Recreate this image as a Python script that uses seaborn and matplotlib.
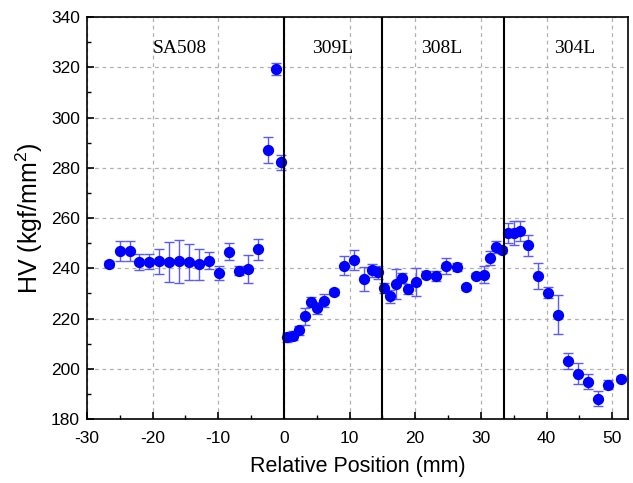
import matplotlib
matplotlib.use("Agg")
import matplotlib.pyplot as plt
import numpy as np
import pandas as pd
import seaborn as sns
from matplotlib.ticker import MultipleLocator

# values
pos_mm = [-26.6, -25.0, -23.5, -22.0, -20.5, -19.05, -17.5, -16.0, -14.5, -13.0,
          -11.4, -9.95, -8.4, -6.9, -5.4, -3.9, -2.4, -1.27, -0.46,
          0.5, 1.37, 2.29, 3.2, 4.07, 5.08, 6.1, 7.6, 9.2, 10.67, 12.2, 13.46, 14.33,
          15.24, 16.16, 17.03, 17.94, 18.9, 20.17, 21.7, 23.1, 24.65, 26.3, 27.7,
          29.2, 30.5, 31.45, 32.3, 33.2,
          34.1, 35.1, 36.0, 37.2, 38.7, 40.2, 41.8, 43.3, 44.8, 46.3, 47.8, 49.4, 51.3]
hv = [241.5, 247.0, 247.0, 242.6, 242.6, 242.7, 242.5, 242.7, 242.5, 241.5,
      243.0, 238.2, 246.6, 239.1, 239.7, 247.5, 287.1, 319.3, 282.2,
      212.6, 213.2, 215.4, 220.8, 226.4, 224.2, 227.1, 230.5, 241.0, 243.3, 235.7, 239.2, 238.4,
      232.1, 228.8, 233.7, 236.1, 231.7, 234.6, 237.5, 236.9, 241.0, 240.5, 232.5,
      237.0, 237.5, 244.1, 248.5, 247.3,
      254.0, 254.2, 254.9, 249.1, 237.0, 230.3, 221.5, 203.1, 198.0, 194.9, 188.0, 193.7, 196.1]
hv_err = [1.2, 4.0, 4.0, 3.1, 3.0, 5.0, 7.8, 8.7, 7.2, 6.0,
          3.3, 2.8, 3.3, 1.9, 5.6, 4.2, 5.2, 2.5, 3.0,
          1.8, 1.8, 1.8, 3.3, 2.0, 2.5, 2.5, 1.3, 3.8, 4.1, 4.8, 2.5, 2.5,
          2.0, 2.5, 6.0, 2.0, 2.0, 5.5, 1.5, 1.9, 3.1, 1.7, 1.0,
          1.0, 3.4, 2.7, 2.3, 1.2,
          4.0, 4.8, 4.0, 4.3, 5.1, 2.2, 7.7, 3.2, 4.2, 3.0, 3.0, 1.8, 1.0]

boundaries = [0, 15, 33.5]
zone_names = ["SA508", "309L", "308L", "304L"]
zone_label_x = [-15.8, 7.5, 24.0, 44.3]

df = pd.DataFrame({"pos": pos_mm, "hv": hv, "err": hv_err})

sns.set_style("ticks")
plt.rcParams["font.family"] = ["Liberation Sans", "DejaVu Sans"]
plt.rcParams["axes.unicode_minus"] = False
plt.rcParams["mathtext.fontset"] = "custom"
plt.rcParams["mathtext.rm"] = "Liberation Sans"
plt.rcParams["text.color"] = "black"
plt.rcParams["axes.labelcolor"] = "black"
plt.rcParams["xtick.color"] = "black"
plt.rcParams["ytick.color"] = "black"

fig = plt.figure(figsize=(6.33, 4.83), dpi=100)
ax = fig.add_axes([0.1374, 0.1325, 0.8546, 0.8323])

ax.errorbar(df["pos"], df["hv"], yerr=df["err"], fmt="none", ecolor="#5a5aff",
            elinewidth=1.0, capsize=3.5, capthick=1.0, zorder=2)
sns.scatterplot(data=df, x="pos", y="hv", ax=ax, color="#0000ff", s=66,
                edgecolor="#0000ff", linewidth=0, zorder=3, legend=False)

for b in boundaries:
    ax.axvline(b, color="black", lw=1.5, zorder=4)
for name, lx in zip(zone_names, zone_label_x):
    ax.text(lx, 327.5, name, ha="center", va="center", fontsize=14,
            family=["Liberation Serif", "DejaVu Serif"])

ax.set_xlim(-30, 52.4)
ax.set_ylim(180, 340)
ax.xaxis.set_major_locator(MultipleLocator(10))
ax.xaxis.set_minor_locator(MultipleLocator(5))
ax.yaxis.set_major_locator(MultipleLocator(20))
ax.yaxis.set_minor_locator(MultipleLocator(10))
ax.grid(True, which="major", color="#b0b0b0", linestyle=(0, (3, 3)), lw=0.9)
ax.set_axisbelow(True)
ax.tick_params(which="major", direction="in", length=5, width=1.2, labelsize=12.5,
               top=False, right=False, pad=5)
ax.tick_params(axis="x", which="major", pad=8.5)
ax.tick_params(which="minor", direction="in", length=3, width=1.0,
               top=False, right=False)
for s in ax.spines.values():
    s.set_linewidth(1.2)
    s.set_color("black")

ax.set_xlabel("Relative Position (mm)", fontsize=15.5, labelpad=7)
ax.set_ylabel("HV (kgf/mm$^2$)", fontsize=18, labelpad=4)

fig.savefig("out.png", dpi=100)
